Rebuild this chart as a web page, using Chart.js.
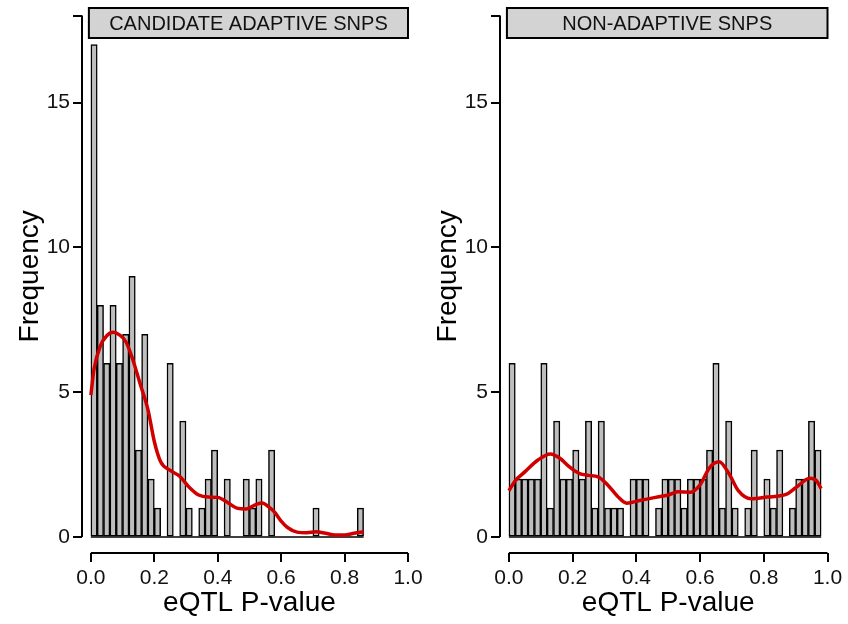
<!DOCTYPE html>
<html>
<head>
<meta charset="utf-8">
<script src="https://cdn.jsdelivr.net/npm/chart.js@4.4.0/dist/chart.umd.min.js"></script>
<style>
  body { margin: 0; background: #fff; }
  #wrap { position: relative; width: 848px; height: 624px; }
  .panel { position: absolute; top: 0; width: 430px; height: 624px; }
</style>
</head>
<body>
<div id="wrap">
  <div class="panel" style="left:0"><canvas id="graficLeft"></canvas></div>
  <div class="panel" style="left:418px"><canvas id="graficRight"></canvas></div>
</div>
<script>
var FONT = '"Liberation Sans", Arial, sans-serif';

// histogram bins are 0.02 wide, starting at 0
var binWidth = 0.02;
var xTicks = [0, 0.2, 0.4, 0.6, 0.8, 1.0];
var yTicks = [0, 5, 10, 15, 18];

// candidate adaptive SNPs: counts per bin (0 .. 0.86)
var adaptiveCounts = [17, 8, 6, 8, 6, 7, 9, 3, 7, 2,
                      1, 0, 6, 0, 4, 1, 0, 1, 2, 3,
                      0, 2, 0, 0, 2, 1, 2, 0, 3, 0,
                      0, 0, 0, 0, 0, 1, 0, 0, 0, 0,
                      0, 0, 1];
// non-adaptive SNPs: counts per bin (0 .. 0.98)
var neutralCounts = [6, 2, 2, 2, 2, 6, 1, 4, 2, 2,
                     3, 2, 4, 1, 4, 1, 1, 1, 0, 2,
                     2, 2, 0, 1, 2, 2, 2, 1, 2, 2,
                     2, 3, 6, 1, 4, 1, 0, 1, 3, 0,
                     2, 1, 3, 0, 1, 2, 2, 4, 3];

// smoothed density curves (red lines)
var adaptiveDensX = [0.00, 0.01, 0.03, 0.05, 0.07, 0.09, 0.11, 0.13, 0.155, 0.18,
                     0.20, 0.22, 0.25, 0.28, 0.31, 0.34, 0.37, 0.40, 0.43, 0.46,
                     0.49, 0.52, 0.54, 0.56, 0.58, 0.60, 0.62, 0.65, 0.68, 0.71,
                     0.74, 0.77, 0.80, 0.83, 0.86];
var adaptiveDensY = [4.9, 5.8, 6.6, 6.95, 7.07, 6.98, 6.75, 6.2, 5.3, 4.4,
                     3.3, 2.6, 2.3, 2.1, 1.72, 1.45, 1.38, 1.37, 1.2, 1.0,
                     0.97, 1.12, 1.18, 1.05, 0.85, 0.55, 0.33, 0.17, 0.15, 0.18,
                     0.13, 0.07, 0.07, 0.13, 0.18];
var neutralDensX = [0.00, 0.02, 0.05, 0.09, 0.13, 0.16, 0.19, 0.22, 0.25, 0.28,
                    0.31, 0.34, 0.37, 0.41, 0.46, 0.50, 0.53, 0.57, 0.60, 0.63,
                    0.66, 0.69, 0.72, 0.76, 0.81, 0.87, 0.90, 0.945, 0.965, 0.98];
var neutralDensY = [1.6, 1.95, 2.25, 2.65, 2.87, 2.72, 2.42, 2.2, 2.13, 2.08,
                    1.8, 1.42, 1.17, 1.26, 1.37, 1.45, 1.56, 1.55, 1.8, 2.4,
                    2.6, 2.2, 1.6, 1.32, 1.38, 1.47, 1.7, 2.03, 1.95, 1.67];

// axes lines, strip box and axis titles
var decor = {
  id: 'decor',
  afterDraw: function(chart, args, opts) {
    var ctx = chart.ctx, x = chart.scales.x, y = chart.scales.y, a = chart.chartArea;
    var x0 = x.getPixelForValue(0), x1 = x.getPixelForValue(1);
    var y0 = y.getPixelForValue(0), yTop = y.getPixelForValue(18);
    ctx.save();
    ctx.strokeStyle = '#000';
    ctx.lineWidth = 2;
    ctx.beginPath();
    ctx.moveTo(x0, a.bottom);
    ctx.lineTo(x1, a.bottom);
    ctx.stroke();
    ctx.beginPath();
    ctx.moveTo(a.left, y0);
    ctx.lineTo(a.left, yTop);
    ctx.stroke();

    var l = x0 - 2;
    ctx.fillStyle = '#d3d3d3';
    ctx.fillRect(l, 8, x1 - l, 30);
    ctx.strokeRect(l, 8, x1 - l, 30);
    ctx.fillStyle = '#111';
    ctx.font = '20px ' + FONT;
    ctx.textAlign = 'center';
    ctx.textBaseline = 'middle';
    ctx.fillText(opts.text, (l + x1) / 2, 24);

    ctx.fillStyle = '#000';
    ctx.font = '28px ' + FONT;
    ctx.textBaseline = 'alphabetic';
    ctx.fillText('eQTL P-value', (x0 + x1) / 2, 611);
    ctx.translate(38, (y0 + yTop) / 2);
    ctx.rotate(-Math.PI / 2);
    ctx.fillText('Frequency', 0, 0);
    ctx.restore();
  }
};

function makePanel(id, title, counts, densX, densY, padRight) {
  var bars = counts.map(function(c, i) { return {x: (i + 0.5) * binWidth, y: c}; });
  var curve = densX.map(function(v, i) { return {x: v, y: densY[i]}; });
  var base = [{x: 0, y: 0}, {x: counts.length * binWidth, y: 0}];

  return new Chart(document.getElementById(id), {
    data: {
      datasets: [
        { type: 'line', data: curve, borderColor: '#d00000', borderWidth: 3.5,
          pointRadius: 0, cubicInterpolationMode: 'monotone', order: 0 },
        { type: 'line', data: base, borderColor: '#000', borderWidth: 1.5,
          pointRadius: 0, order: 1 },
        { type: 'bar', data: bars, backgroundColor: '#bebebe', borderColor: '#000',
          borderWidth: 1.5, borderSkipped: false, barPercentage: 1,
          categoryPercentage: 1, order: 2 }
      ]
    },
    options: {
      animation: false,
      responsive: true,
      maintainAspectRatio: false,
      layout: { padding: { top: 13, right: padRight, left: 0, bottom: 0 } },
      plugins: {
        legend: { display: false },
        tooltip: { enabled: false },
        decor: { text: title }
      },
      scales: {
        x: {
          type: 'linear', min: -0.028, max: 1, offset: false,
          afterBuildTicks: function(s) { s.ticks = xTicks.map(function(v) { return {value: v}; }); },
          afterFit: function(s) { s.height = 71; },
          border: { display: false },
          grid: { offset: false, drawOnChartArea: false, drawTicks: true, tickLength: 9, color: '#000', lineWidth: 2 },
          ticks: {
            callback: function(v) { return v.toFixed(1); },
            font: { size: 21, family: FONT }, color: '#111', padding: 4,
            maxRotation: 0, autoSkip: false
          }
        },
        y: {
          type: 'linear', min: -0.55, max: 18,
          afterBuildTicks: function(s) { s.ticks = yTicks.map(function(v) { return {value: v}; }); },
          afterFit: function(s) { s.width = 82; },
          border: { display: false },
          grid: { drawOnChartArea: false, drawTicks: true, tickLength: 9, color: '#000', lineWidth: 2 },
          ticks: {
            callback: function(v) { return v === 18 ? '' : v; },
            font: { size: 21, family: FONT }, color: '#111', padding: 3
          }
        }
      }
    },
    plugins: [decor]
  });
}

makePanel('graficLeft', 'CANDIDATE ADAPTIVE SNPS', adaptiveCounts, adaptiveDensX, adaptiveDensY, 22);
makePanel('graficRight', 'NON-ADAPTIVE SNPS', neutralCounts, neutralDensX, neutralDensY, 20.5);
</script>
</body>
</html>
